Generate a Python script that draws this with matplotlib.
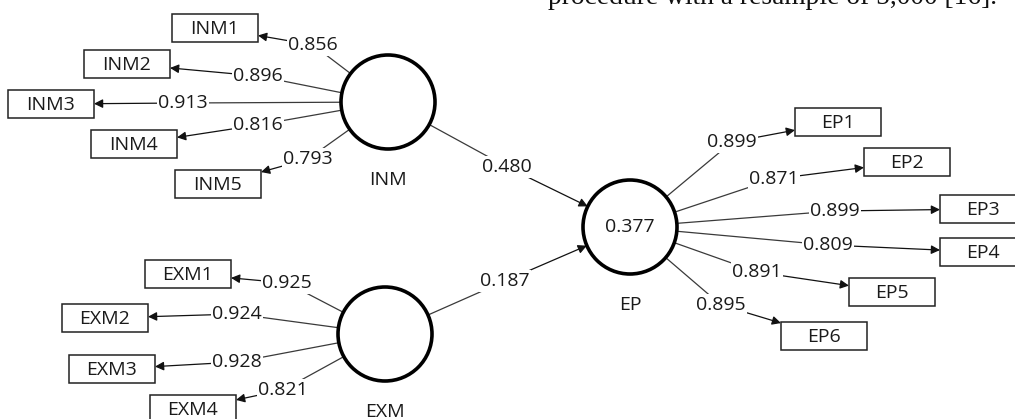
import numpy as np
import matplotlib
matplotlib.use("Agg")
import matplotlib.pyplot as plt
from matplotlib.patches import Circle, Rectangle

# --- data: outer loadings, path coefficients, R2 ---
inm_items = ["INM1", "INM2", "INM3", "INM4", "INM5"]
inm_loadings = [0.856, 0.896, 0.913, 0.816, 0.793]
exm_items = ["EXM1", "EXM2", "EXM3", "EXM4"]
exm_loadings = [0.925, 0.924, 0.928, 0.821]
ep_items = ["EP1", "EP2", "EP3", "EP4", "EP5", "EP6"]
ep_loadings = [0.899, 0.871, 0.899, 0.809, 0.891, 0.895]
paths = [("INM", "EP"), ("EXM", "EP")]
path_coefs = [0.480, 0.187]
ep_r2 = 0.377

# --- layout (pixel space of the 1015x419 picture) ---
R = 47
latent_pos = {"INM": (388, 102), "EXM": (385, 334), "EP": (630, 227)}
box_w, box_h = 86, 28
box_pos = {
    "INM1": (172, 14), "INM2": (84, 50), "INM3": (8, 90), "INM4": (91, 130), "INM5": (175, 170),
    "EXM1": (145, 260), "EXM2": (62, 304), "EXM3": (69, 355), "EXM4": (150, 395),
    "EP1": (795, 108), "EP2": (864, 148), "EP3": (940, 195), "EP4": (940, 238),
    "EP5": (849, 278), "EP6": (781, 322),
}
label_pos = {
    "INM1": (313, 45), "INM2": (258, 76), "INM3": (183, 103), "INM4": (258, 125), "INM5": (308, 159),
    "EXM1": (287, 283), "EXM2": (237, 314), "EXM3": (237, 362), "EXM4": (283, 390),
    "EP1": (732, 142), "EP2": (774, 179), "EP3": (835, 211), "EP4": (828, 245),
    "EP5": (757, 272), "EP6": (721, 305),
}
path_label_pos = [(507, 167), (505, 281)]

FONT = "Open Sans"
FS = 14
TXT = "#1a1a1a"
LINE = "#3a3a3a"

fig = plt.figure(figsize=(10.15, 4.19), dpi=100)
ax = fig.add_axes([0, 0, 1, 1])
ax.set_xlim(0, 1015)
ax.set_ylim(419, 0)
ax.axis("off")


def circle_edge(name, toward):
    cx, cy = latent_pos[name]
    d = np.array(toward, float) - (cx, cy)
    d /= np.hypot(*d)
    return cx + R * d[0], cy + R * d[1]


def box_edge(name, frm):
    x0, y0 = box_pos[name]
    c = np.array([x0 + box_w / 2, y0 + box_h / 2])
    p = np.array(frm, float)
    d = c - p
    ts = []
    for i, lo, hi in [(0, x0, x0 + box_w), (1, y0, y0 + box_h)]:
        if d[i] != 0:
            for b in (lo, hi):
                t = (b - p[i]) / d[i]
                q = p + t * d
                j = 1 - i
                lo2, hi2 = (x0, x0 + box_w) if j == 0 else (y0, y0 + box_h)
                if 0 <= t <= 1 and lo2 - 0.01 <= q[j] <= hi2 + 0.01:
                    ts.append(t)
    t = min(ts)
    return tuple(p + t * d)


def link(start, mid, end, value):
    ax.plot([start[0], mid[0]], [start[1], mid[1]], color=LINE, lw=0.9, zorder=1)
    ax.annotate("", xy=end, xytext=mid,
                arrowprops=dict(arrowstyle="-|>", color="#111111", lw=0.9,
                                mutation_scale=13, shrinkA=0, shrinkB=0),
                zorder=1)
    ax.text(mid[0], mid[1], f"{value:.3f}", ha="center", va="center", fontsize=FS,
            family=FONT, color=TXT, zorder=3,
            bbox=dict(boxstyle="square,pad=0.08", fc="white", ec="none"))


# indicators
for latent, items, loads in [("INM", inm_items, inm_loadings),
                             ("EXM", exm_items, exm_loadings),
                             ("EP", ep_items, ep_loadings)]:
    for item, val in zip(items, loads):
        lp = label_pos[item]
        link(circle_edge(latent, lp), lp, box_edge(item, lp), val)
        x0, y0 = box_pos[item]
        ax.add_patch(Rectangle((x0, y0), box_w, box_h, fc="white", ec="#222222", lw=1.1, zorder=2))
        ax.text(x0 + box_w / 2, y0 + box_h / 2 + 1, item, ha="center", va="center",
                fontsize=FS, family=FONT, color=TXT, zorder=3)

# structural paths
for (a, b), val, lp in zip(paths, path_coefs, path_label_pos):
    link(circle_edge(a, lp), lp, circle_edge(b, lp), val)

# latent variables
for name, (cx, cy) in latent_pos.items():
    ax.add_patch(Circle((cx, cy), R, fc="white", ec="black", lw=2.6, zorder=2))
    ax.text(cx, cy + R + 31, name, ha="center", va="center", fontsize=FS,
            family=FONT, color=TXT, zorder=3)
cx, cy = latent_pos["EP"]
ax.text(cx, cy, f"{ep_r2:.3f}", ha="center", va="center", fontsize=FS,
        family=FONT, color=TXT, zorder=3)

# cut-off line of body text above the figure
ax.text(548, 3.5, "procedure with a resample of 5,000 [16].", ha="left", va="baseline",
        fontsize=19.8, family="Liberation Serif", color="#111111", zorder=3)

fig.savefig("out.png", dpi=100)
